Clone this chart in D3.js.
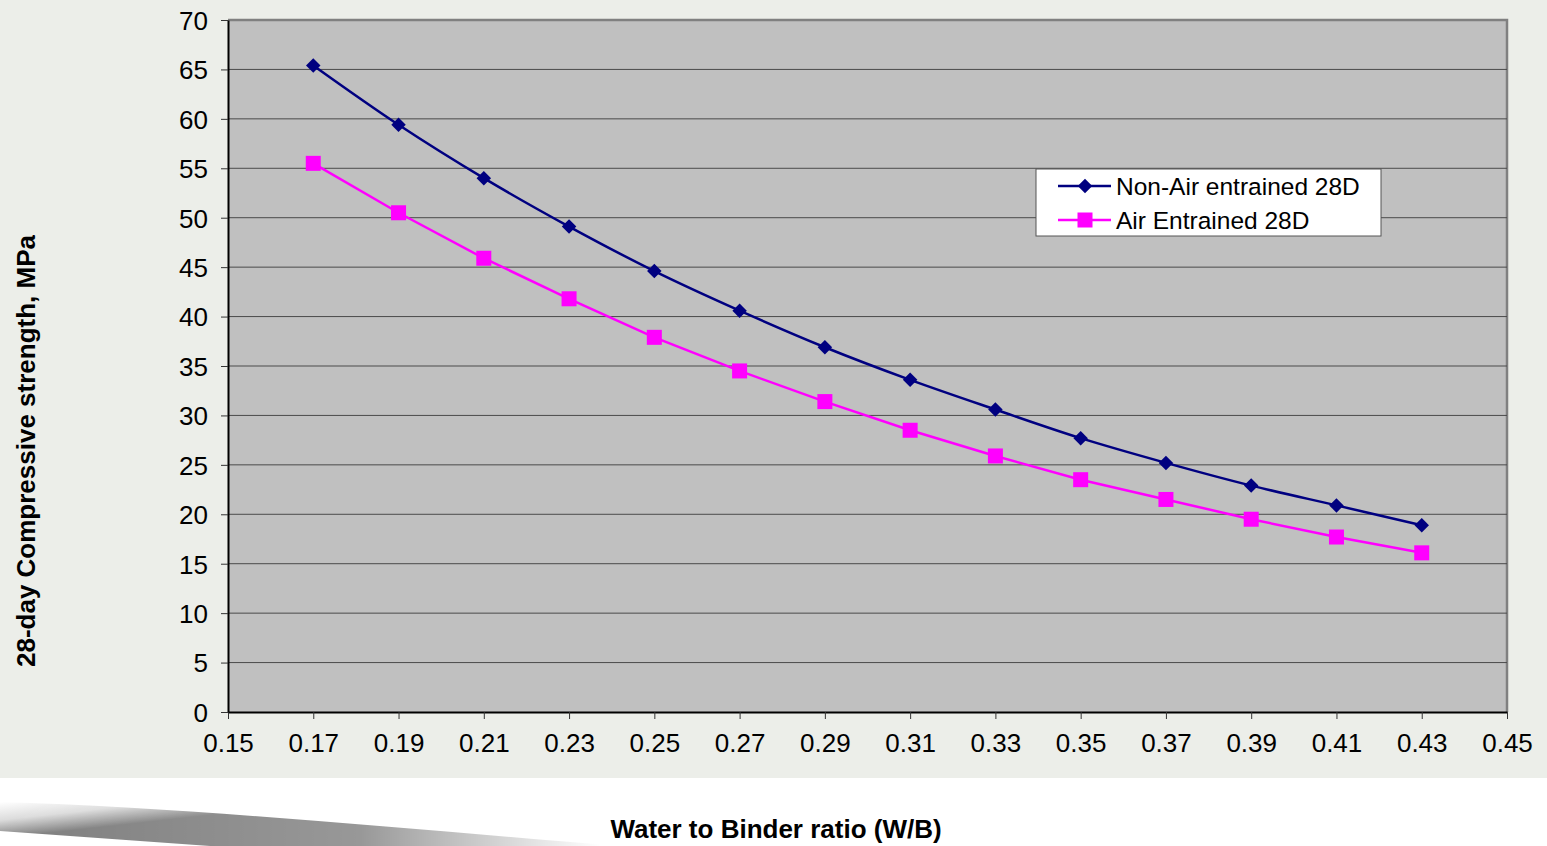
<!DOCTYPE html>
<html>
<head>
<meta charset="utf-8">
<script src="https://cdn.jsdelivr.net/npm/d3@7"></script>
<style>
  body { margin: 0; background: #ffffff; }
  svg { display: block; font-family: "Liberation Sans", Arial, sans-serif; }
</style>
</head>
<body>
<svg id="chart"></svg>
<script>
// Data
const wbRatio = [0.17, 0.19, 0.21, 0.23, 0.25, 0.27, 0.29, 0.31, 0.33, 0.35, 0.37, 0.39, 0.41, 0.43];
const nonAir28D = [65.4, 59.4, 54.0, 49.1, 44.6, 40.6, 36.9, 33.6, 30.6, 27.7, 25.2, 22.9, 20.9, 18.9];
const airEntrained28D = [55.5, 50.5, 45.9, 41.8, 37.9, 34.5, 31.4, 28.5, 25.9, 23.5, 21.5, 19.5, 17.7, 16.1];
const xTicks = [0.15, 0.17, 0.19, 0.21, 0.23, 0.25, 0.27, 0.29, 0.31, 0.33, 0.35, 0.37, 0.39, 0.41, 0.43, 0.45];
const yTicks = [0, 5, 10, 15, 20, 25, 30, 35, 40, 45, 50, 55, 60, 65, 70];

const W = 1547, H = 846;
const margin = {top: 20, right: 40, bottom: 134, left: 228};
const width = W - margin.left - margin.right;
const height = H - margin.top - margin.bottom;

const svg = d3.select('#chart').attr('width', W).attr('height', H);

// page background
svg.append('rect').attr('width', W).attr('height', 778).attr('fill', '#eceee9');

// page-curl shadow in lower left
const defs = svg.append('defs');
const grad = defs.append('linearGradient').attr('id', 'swoosh')
  .attr('gradientUnits', 'userSpaceOnUse')
  .attr('x1', 0).attr('y1', 802).attr('x2', 4).attr('y2', 838);
grad.append('stop').attr('offset', 0).attr('stop-color', '#ffffff');
grad.append('stop').attr('offset', 0.5).attr('stop-color', '#dcdcdc');
grad.append('stop').attr('offset', 1).attr('stop-color', '#7e7e7e');
const fade = defs.append('linearGradient').attr('id', 'swooshFade')
  .attr('gradientUnits', 'userSpaceOnUse')
  .attr('x1', 0).attr('y1', 0).attr('x2', 600).attr('y2', 0);
fade.append('stop').attr('offset', 0).attr('stop-color', '#fff').attr('stop-opacity', 1);
fade.append('stop').attr('offset', 0.6).attr('stop-color', '#fff').attr('stop-opacity', 0.8);
fade.append('stop').attr('offset', 1).attr('stop-color', '#fff').attr('stop-opacity', 0);
const mask = defs.append('mask').attr('id', 'swooshMask');
mask.append('rect').attr('x', 0).attr('y', 770).attr('width', 700).attr('height', 80).attr('fill', 'url(#swooshFade)');
svg.append('path')
  .attr('d', 'M0,802 C200,808 420,830 620,846 L210,846 L0,831 Z')
  .attr('fill', 'url(#swoosh)')
  .attr('mask', 'url(#swooshMask)');

const chart = svg.append('g').attr('transform', `translate(${margin.left},${margin.top})`);

const xScale = d3.scaleLinear().domain([0.15, 0.45]).range([0, width]);
const yScale = d3.scaleLinear().domain([0, 70]).range([height, 0]);

// plot area
chart.append('rect')
  .attr('width', width).attr('height', height)
  .attr('fill', '#c0c0c0');
chart.append('path')
  .attr('d', `M0,0 H${width} V${height}`)
  .attr('fill', 'none')
  .attr('stroke', '#808080').attr('stroke-width', 2.5);

// gridlines
chart.append('g')
  .selectAll('line')
  .data(yTicks.filter(d => d > 0 && d < 70))
  .join('line')
  .attr('x1', 0).attr('x2', width)
  .attr('y1', d => yScale(d)).attr('y2', d => yScale(d))
  .attr('stroke', '#4a4a4a').attr('stroke-width', 1);

// axes
const xAxis = d3.axisBottom(xScale).tickValues(xTicks).tickFormat(d3.format('.2f')).tickSize(7).tickSizeOuter(0);
const yAxis = d3.axisLeft(yScale).tickValues(yTicks).tickFormat(d3.format('d')).tickSize(7).tickSizeOuter(0);

const xAxisG = chart.append('g').attr('transform', `translate(0,${height})`).call(xAxis);
const yAxisG = chart.append('g').call(yAxis);

[xAxisG, yAxisG].forEach(g => {
  g.select('.domain').attr('stroke', '#000').attr('stroke-width', 2);
  g.selectAll('.tick line').attr('stroke', '#333');
  g.selectAll('.tick text').attr('fill', '#000').attr('font-size', 26).attr('font-family', '"Liberation Sans", Arial, sans-serif');
});
xAxisG.selectAll('.tick text').attr('dy', '1.15em');
yAxisG.selectAll('.tick text').attr('x', -20).attr('dy', '0.36em');

// series
const navy = '#000080', magenta = '#ff00ff';

const lineNav = d3.line().x((d, i) => xScale(wbRatio[i])).y(d => yScale(d)).curve(d3.curveCatmullRom);
const lineAir = d3.line().x((d, i) => xScale(wbRatio[i])).y(d => yScale(d));

chart.append('path').datum(nonAir28D).attr('d', lineNav)
  .attr('fill', 'none').attr('stroke', navy).attr('stroke-width', 2.5);
chart.append('path').datum(airEntrained28D).attr('d', lineAir)
  .attr('fill', 'none').attr('stroke', magenta).attr('stroke-width', 2.5);

const diamond = d3.symbol().type(d3.symbolSquare).size(105);
chart.selectAll('.nonair')
  .data(nonAir28D)
  .join('path')
  .attr('class', 'nonair')
  .attr('d', diamond)
  .attr('transform', (d, i) => `translate(${xScale(wbRatio[i])},${yScale(d)}) rotate(45)`)
  .attr('fill', navy);

chart.selectAll('.air')
  .data(airEntrained28D)
  .join('rect')
  .attr('class', 'air')
  .attr('x', (d, i) => xScale(wbRatio[i]) - 7.5)
  .attr('y', d => yScale(d) - 7.5)
  .attr('width', 15).attr('height', 15)
  .attr('fill', magenta);

// legend
const legend = svg.append('g').attr('transform', 'translate(1036,169)');
legend.append('rect').attr('width', 345).attr('height', 67)
  .attr('fill', '#fff').attr('stroke', '#555').attr('stroke-width', 1);
const legendItems = [
  {label: 'Non-Air entrained 28D', color: navy, shape: 'diamond'},
  {label: 'Air Entrained 28D', color: magenta, shape: 'square'}
];
const li = legend.selectAll('.li').data(legendItems).join('g')
  .attr('transform', (d, i) => `translate(0,${17 + i * 34})`);
li.append('line').attr('x1', 22).attr('x2', 75).attr('stroke', d => d.color).attr('stroke-width', 2.5);
li.filter(d => d.shape === 'diamond').append('path')
  .attr('d', diamond).attr('transform', 'translate(49,0) rotate(45)').attr('fill', d => d.color);
li.filter(d => d.shape === 'square').append('rect')
  .attr('x', 41.5).attr('y', -7.5).attr('width', 15).attr('height', 15).attr('fill', d => d.color);
li.append('text').attr('x', 80).attr('dy', '0.36em')
  .attr('font-size', 24.5).attr('fill', '#000').text(d => d.label);

// axis titles
svg.append('text')
  .attr('transform', 'translate(35,451) rotate(-90)')
  .attr('text-anchor', 'middle')
  .attr('font-size', 26).attr('font-weight', 'bold')
  .text('28-day Compressive strength, MPa');

svg.append('text')
  .attr('x', 776).attr('y', 838)
  .attr('text-anchor', 'middle')
  .attr('font-size', 26).attr('font-weight', 'bold')
  .text('Water to Binder ratio (W/B)');
</script>
</body>
</html>
